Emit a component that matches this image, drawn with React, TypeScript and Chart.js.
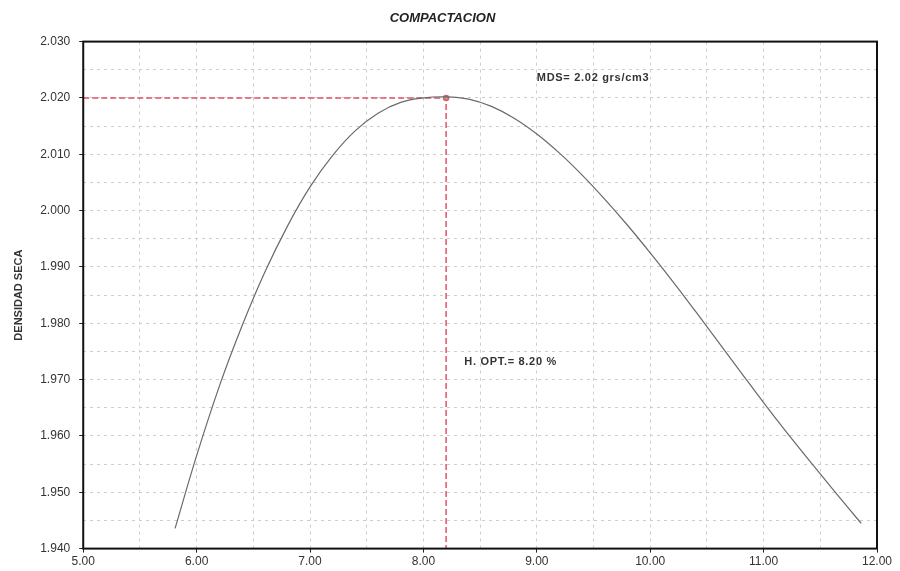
import React, { useEffect, useRef } from "react";
import { Chart, registerables } from "chart.js";

Chart.register(...registerables);

// Curve (humedad %, densidad seca)
const humedad = [5.81, 6.0, 6.2, 6.4, 6.6, 6.8, 7.0, 7.2, 7.4, 7.6, 7.8, 8.0, 8.2, 8.4, 8.6, 8.8, 9.0, 9.2, 9.4, 9.6, 9.8, 10.0, 10.2, 10.4, 10.6, 10.8, 11.0, 11.2, 11.4, 11.6, 11.86];
const densidad = [1.9436, 1.9565, 1.9688, 1.9795, 1.989, 1.9972, 2.0042, 2.0098, 2.0142, 2.0173, 2.0192, 2.02, 2.0202, 2.0198, 2.0185, 2.0164, 2.0136, 2.0102, 2.0063, 2.002, 1.9974, 1.9925, 1.9874, 1.9821, 1.9767, 1.9713, 1.9659, 1.9607, 1.9557, 1.9508, 1.9445];

const hOpt = 8.2;
const mds = 2.02;
const xMin = 5;
const xMax = 12;
const yMin = 1.94;
const yMax = 2.03;

const titleText = "COMPACTACION";
const yTitle = "DENSIDAD SECA";
const mdsLabel = "MDS= 2.02 grs/cm3";
const hOptLabel = "H. OPT.= 8.20 %";
const mdsLabelPos = [9.0, 2.0235];
const hOptLabelPos = [8.36, 1.9731];

const FONT = "'Liberation Sans', Arial, sans-serif";

export default function App() {
  const ref = useRef<HTMLCanvasElement | null>(null);

  useEffect(() => {
    document.body.style.margin = "0";
    const canvas = ref.current;
    if (!canvas) return;

    const boxPlugin = {
      id: "boxAndLabels",
      afterDraw(chart: any) {
        const { ctx, chartArea, scales } = chart;
        ctx.save();
        ctx.strokeStyle = "#111";
        ctx.lineWidth = 2;
        ctx.setLineDash([]);
        ctx.strokeRect(chartArea.left, chartArea.top, chartArea.right - chartArea.left, chartArea.bottom - chartArea.top);
        ctx.fillStyle = "#333";
        ctx.font = "bold 11px " + FONT;
        try { (ctx as any).letterSpacing = "0.7px"; } catch (e) {}
        ctx.textAlign = "left";
        ctx.textBaseline = "middle";
        ctx.fillText(mdsLabel, scales.x.getPixelForValue(mdsLabelPos[0]), scales.y.getPixelForValue(mdsLabelPos[1]));
        ctx.fillText(hOptLabel, scales.x.getPixelForValue(hOptLabelPos[0]), scales.y.getPixelForValue(hOptLabelPos[1]));
        ctx.restore();
      },
    };

    const chart = new Chart(canvas, {
      type: "line",
      data: {
        datasets: [
          {
            data: humedad.map((x, i) => ({ x, y: densidad[i] })),
            borderColor: "#6a6a6a",
            borderWidth: 1.2,
            pointRadius: 0,
            tension: 0.4,
            fill: false,
          },
          {
            data: [
              { x: xMin, y: mds },
              { x: hOpt, y: mds },
              { x: hOpt, y: yMin },
            ],
            borderColor: "#e0506a",
            borderWidth: 1.5,
            borderDash: [6, 3],
            pointRadius: [0, 2.5, 0],
            pointBackgroundColor: "#d88",
            pointBorderColor: "#c66",
            tension: 0,
            fill: false,
          },
        ],
      },
      options: {
        animation: false,
        responsive: true,
        maintainAspectRatio: false,
        layout: { padding: { left: 8, right: 23, top: 4, bottom: 0 } },
        plugins: {
          legend: { display: false },
          tooltip: { enabled: false },
          title: {
            display: true,
            text: titleText,
            color: "#222",
            font: { family: FONT, size: 13, weight: "bold", style: "italic" },
            padding: { top: 7, bottom: 15 },
          },
        },
        scales: {
          x: {
            type: "linear",
            min: xMin,
            max: xMax,
            ticks: {
              stepSize: 0.5,
              autoSkip: false,
              maxRotation: 0,
              color: "#333",
              font: { family: FONT, size: 12 },
              padding: 2,
              callback: (v: any) => (Math.abs(v - Math.round(v)) < 1e-6 ? Number(v).toFixed(2) : ""),
            },
            grid: {
              color: "#cdcdcd",
              lineWidth: 1,
              tickLength: 4,
              tickColor: (c: any) => (c.tick && Math.abs(c.tick.value - Math.round(c.tick.value)) < 1e-6 ? "#222" : "rgba(0,0,0,0)"),
              tickBorderDash: [],
            },
            border: { display: false, dash: [3, 4] },
          },
          y: {
            type: "linear",
            min: yMin,
            max: yMax,
            title: {
              display: true,
              text: yTitle,
              color: "#333",
              font: { family: FONT, size: 11, weight: "bold" },
              padding: { top: 4, bottom: 6 },
            },
            ticks: {
              stepSize: 0.005,
              autoSkip: false,
              color: "#333",
              font: { family: FONT, size: 12 },
              padding: 9,
              callback: (v: any) => (Math.round(v * 1000) % 10 === 0 ? Number(v).toFixed(3) : ""),
            },
            grid: {
              color: "#cdcdcd",
              lineWidth: 1,
              tickLength: 4,
              tickColor: (c: any) => (c.tick && Math.round(c.tick.value * 1000) % 10 === 0 ? "#222" : "rgba(0,0,0,0)"),
              tickBorderDash: [],
            },
            border: { display: false, dash: [3, 4] },
          },
        },
      },
      plugins: [boxPlugin],
    } as any);

    return () => chart.destroy();
  }, []);

  return (
    <div style={{ width: 900, height: 571, position: "relative", background: "#fff" }}>
      <canvas ref={ref} />
    </div>
  );
}
